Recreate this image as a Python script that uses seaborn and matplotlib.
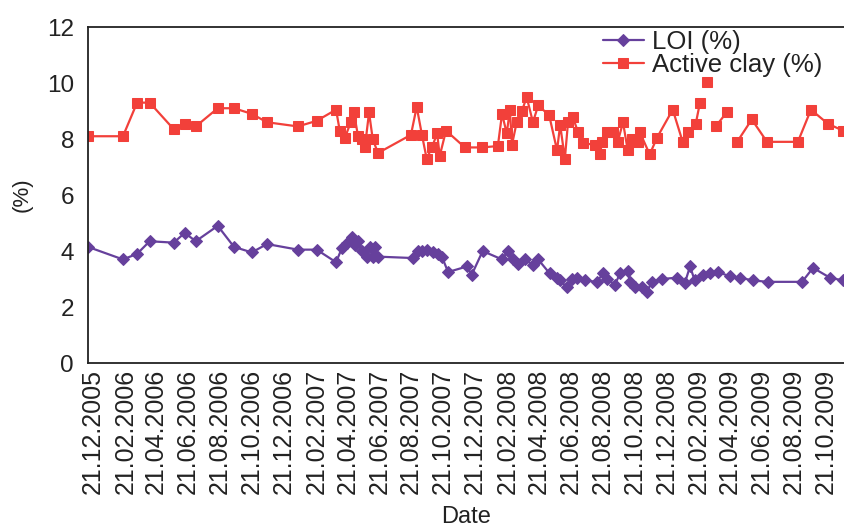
import numpy as np
import pandas as pd
import matplotlib
matplotlib.use('Agg')
import matplotlib.pyplot as plt
import matplotlib.transforms as mtransforms
import seaborn as sns

sns.set_style("white")
plt.rcParams['font.family'] = ['Liberation Sans', 'DejaVu Sans']

# Active clay (%) - nan marks a break in the line
clay_dates = ['2005-12-21', '2006-02-26', '2006-03-25', '2006-04-18', '2006-06-03',
              '2006-06-24', '2006-07-15', '2006-08-26', '2006-09-26', '2006-10-30',
              '2006-11-28', '2007-01-26', '2007-03-03', '2007-04-09', '2007-04-16',
              '2007-04-26', '2007-05-07', '2007-05-13', '2007-05-21', '2007-05-28',
              '2007-06-03', '2007-06-11', '2007-06-18', '2007-06-28', '2007-08-30',
              '2007-09-10', '2007-09-20', '2007-09-29', '2007-10-09', '2007-10-19',
              '2007-10-24', '2007-11-05', '2007-12-11', '2008-01-13', '2008-02-12',
              '2008-02-20', '2008-02-29', '2008-03-06', '2008-03-10', '2008-03-19',
              '2008-03-29', '2008-04-07', '2008-04-19', '2008-04-29', '2008-05-20',
              '2008-06-04', '2008-06-10', '2008-06-19', '2008-06-25', '2008-07-04',
              '2008-07-14', '2008-07-23', '2008-08-15', '2008-08-25', '2008-08-29',
              '2008-09-07', '2008-09-19', '2008-09-28', '2008-10-08', '2008-10-17',
              '2008-10-25', '2008-11-06', '2008-11-09', '2008-11-28', '2008-12-12',
              '2009-01-11', '2009-01-30', '2009-02-09', '2009-02-24', '2009-03-04',
              '2009-03-10', '2009-03-17', '2009-03-25', '2009-04-03', '2009-04-24',
              '2009-05-04', '2009-05-14', '2009-06-11', '2009-07-10', '2009-09-07',
              '2009-10-02', '2009-11-03', '2009-12-02']
clay = [8.1, 8.1, 9.3, 9.3, 8.35,
        8.55, 8.45, 9.1, 9.1, 8.9,
        8.6, 8.45, 8.65, 9.05, 8.3,
        8.05, 8.6, 8.95, 8.1, 8.0,
        7.7, 8.95, 8.0, 7.5, 8.15,
        9.15, 8.15, 7.3, 7.7, 8.2,
        7.4, 8.3, 7.7, 7.7, 7.75,
        8.9, 8.2, 9.05, 7.8, 8.6,
        9.0, 9.5, 8.6, 9.2, 8.85,
        7.6, 8.5, 7.3, 8.6, 8.8,
        8.25, 7.85, 7.8, 7.45, 7.9,
        8.25, 8.25, 7.9, 8.6, 7.6,
        8.0, 7.9, 8.25, 7.45, 8.05,
        9.05, 7.9, 8.25, 8.55, 9.3,
        np.nan, 10.05, np.nan, 8.45, 8.95,
        np.nan, 7.9, 8.7, 7.9, 7.9,
        9.05, 8.55, 8.3]

# LOI (%)
loi_dates = ['2005-12-21', '2006-02-26', '2006-03-25', '2006-04-18', '2006-06-03',
             '2006-06-24', '2006-07-15', '2006-08-26', '2006-09-26', '2006-10-30',
             '2006-11-28', '2007-01-26', '2007-03-03', '2007-04-09', '2007-04-20',
             '2007-04-30', '2007-05-09', '2007-05-15', '2007-05-21', '2007-05-28',
             '2007-06-07', '2007-06-13', '2007-06-18', '2007-06-22', '2007-06-28',
             '2007-09-03', '2007-09-12', '2007-09-21', '2007-09-29', '2007-10-11',
             '2007-10-21', '2007-10-28', '2007-11-09', '2007-12-15', '2007-12-24',
             '2008-01-14', '2008-02-20', '2008-03-02', '2008-03-11', '2008-03-21',
             '2008-04-04', '2008-04-19', '2008-04-29', '2008-05-21', '2008-06-04',
             '2008-06-10', '2008-06-23', '2008-07-02', '2008-07-12', '2008-07-27',
             '2008-08-19', '2008-08-31', '2008-09-07', '2008-09-23', '2008-10-02',
             '2008-10-17', '2008-10-21', '2008-10-31', '2008-11-13', '2008-11-23',
             '2008-12-02', '2008-12-21', '2009-01-19', '2009-02-03', '2009-02-13',
             '2009-02-22', '2009-03-10', '2009-03-23', '2009-04-07', '2009-04-30',
             '2009-05-19', '2009-06-13', '2009-07-12', '2009-09-15', '2009-10-06',
             '2009-11-07', '2009-12-02']
loi = [4.15, 3.7, 3.9, 4.35, 4.3,
       4.65, 4.35, 4.9, 4.15, 3.95,
       4.25, 4.05, 4.05, 3.6, 4.1,
       4.3, 4.5, 4.2, 4.35, 4.0,
       3.8, 4.15, 3.8, 4.15, 3.8,
       3.75, 4.0, 4.0, 4.05, 3.95,
       3.9, 3.8, 3.25, 3.45, 3.15,
       4.0, 3.7, 4.0, 3.7, 3.55,
       3.7, 3.5, 3.7, 3.2, 3.05,
       2.95, 2.7, 3.0, 3.05, 2.95,
       2.9, 3.2, 3.0, 2.8, 3.2,
       3.3, 2.9, 2.7, 2.7, 2.55,
       2.9, 3.0, 3.05, 2.85, 3.45,
       2.95, 3.15, 3.2, 3.25, 3.1,
       3.05, 2.95, 2.9, 2.9, 3.4,
       3.05, 2.95]

tick_dates = pd.date_range('2005-12-21', periods=24, freq=pd.DateOffset(months=2))

clay_df = pd.DataFrame({'Date': pd.to_datetime(clay_dates), 'value': clay})
clay_df['seg'] = clay_df['value'].isna().cumsum()
clay_df = clay_df.dropna()
loi_df = pd.DataFrame({'Date': pd.to_datetime(loi_dates), 'value': loi})

purple = '#66409c'
red = '#f2403a'
ink = '#222222'

fig = plt.figure(figsize=(8.45, 5.3), dpi=100)
ax = fig.add_axes([0.104, 0.315, 0.896, 0.634])

sns.lineplot(data=loi_df, x='Date', y='value', color=purple, marker='D',
             markersize=6, markeredgecolor=purple, linewidth=1.6,
             estimator=None, sort=False, label='LOI (%)', ax=ax)
first = True
for seg, part in clay_df.groupby('seg'):
    sns.lineplot(data=part, x='Date', y='value', color=red, marker='s',
                 markersize=7, markeredgecolor=red, linewidth=1.6,
                 estimator=None, sort=False,
                 label='Active clay (%)' if first else None, ax=ax)
    first = False

ax.set_ylim(0, 12)
ax.set_yticks(range(0, 13, 2))
ax.set_xlim(pd.Timestamp('2005-12-21'), pd.Timestamp('2009-12-06'))
ax.set_xticks(tick_dates)
ax.set_xticklabels([d.strftime('%d.%m.%Y') for d in tick_dates], rotation=90)
ax.tick_params(axis='both', direction='in', length=4, width=1, colors=ink)
ax.tick_params(axis='y', labelsize=17.5, pad=10)
ax.tick_params(axis='x', labelsize=18, pad=4, length=0)
shift = mtransforms.ScaledTranslation(5 / 100, 0, fig.dpi_scale_trans)
for lab in ax.get_xticklabels():
    lab.set_transform(lab.get_transform() + shift)
ax.set_xlabel('Date', fontsize=17, color=ink, labelpad=9)
ax.set_ylabel('(%)', fontsize=16, color=ink, labelpad=10)
for side in ['left', 'bottom', 'top']:
    ax.spines[side].set_color(ink)
    ax.spines[side].set_linewidth(1.3)
ax.spines['right'].set_visible(False)

ax.legend(loc='upper right', bbox_to_anchor=(1.0, 1.06), frameon=False,
          fontsize=18.5, handlelength=1.6, handletextpad=0.3, labelspacing=-0.05,
          labelcolor=ink)

fig.savefig('out.png', dpi=100)
